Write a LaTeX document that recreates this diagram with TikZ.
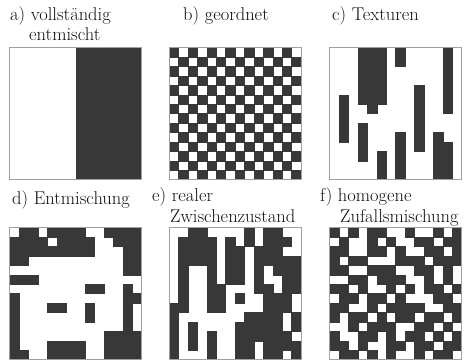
\documentclass[tikz,border=0pt]{standalone}
\usepackage{fontspec}
\usetikzlibrary{calc}
\definecolor{ink}{HTML}{101010}
\definecolor{dark}{HTML}{383838}
\definecolor{frame}{HTML}{A0A0A0}

\begin{document}
\begin{tikzpicture}[x=1pt, y=-1pt,
    lbl/.style={anchor=base west, inner sep=0pt, text=ink, font=\fontsize{18.5}{22}\selectfont},
    cellfill/.style={fill=dark, draw=dark, line width=0.25pt},
    panelframe/.style={draw=frame, line width=0.6pt}]
  \useasboundingbox (0,0) rectangle (469,361);
  \def\cs{9.43}

  % Top left corners of the six squares
  \coordinate (A) at (9.5,47.5);
  \coordinate (B) at (169,47.5);
  \coordinate (C) at (329.5,47.5);
  \coordinate (D) at (9.5,227.5);
  \coordinate (E) at (169,227.5);
  \coordinate (F) at (329.5,227.5);

  % Labels
  \node[lbl] (la1) at (10,21) {a) vollständig};
  \node[lbl] (la2) at (29,41) {entmischt};
  \node[lbl] (lb) at (183,21) {b) geordnet};
  \node[lbl] (lc) at (332,21) {c) Texturen};
  \node[lbl] (ld) at (12,204) {d) Entmischung};
  \node[lbl] (le1) at (152,201) {e) realer};
  \node[lbl] (le2) at (170,222) {Zwischenzustand};
  \node[lbl] (lf1) at (320,201) {f) homogene};
  \node[lbl] (lf2) at (340,222) {Zufallsmischung};

  % a) two halves
  \fill[dark] ($(A)+(66,0)$) rectangle ($(A)+(132,132)$);
  \draw[panelframe] (A) rectangle ++(132,132);

  % b) checkerboard, dark cell in the corner
  \foreach \i in {0,...,13}{
    \foreach \j in {0,...,13}{
      \pgfmathtruncatemacro{\p}{mod(\i+\j,2)}
      \ifnum\p=0 \fill[cellfill] ($(B)+(\i*\cs,\j*\cs)$) rectangle ++(\cs,\cs); \fi
    }
  }
  \draw[panelframe] (B) rectangle ++(132,132);

  % c) column textures (cells: x0/y0/x1/y1)
  \foreach \xa/\ya/\xb/\yb in {3/0/6/6, 4/6/5/7, 7/0/8/2, 12/0/13/7, 1/5/2/10,
      9/4/10/11, 3/8/4/12, 7/9/8/14, 5/11/6/14, 11/9/12/14, 12/10/13/14}{
    \fill[cellfill] ($(C)+(\xa*\cs,\ya*\cs)$) rectangle ($(C)+(\xb*\cs,\yb*\cs)$);
  }
  \draw[panelframe] (C) rectangle ++(132,132);

  % d) demixing
  \foreach \row [count=\j from 0] in {
      {0,1,1,0,1,1,1,1,0,0,1,1,1,1},
      {1,1,1,1,0,1,1,1,1,0,0,1,1,1},
      {1,1,1,1,1,1,1,1,1,0,0,0,1,1},
      {1,1,0,0,0,0,0,0,0,0,0,0,1,1},
      {0,0,0,0,0,0,0,0,0,0,0,0,1,1},
      {1,1,1,0,0,0,0,0,0,0,0,0,0,0},
      {0,0,0,0,0,0,0,0,1,1,0,0,1,0},
      {1,0,0,0,0,0,0,0,0,0,0,0,1,1},
      {1,0,0,0,1,1,0,0,1,0,0,0,1,0},
      {1,0,0,0,0,0,0,0,1,0,0,0,1,0},
      {1,0,0,0,0,0,0,0,0,0,0,0,1,0},
      {1,0,0,0,0,0,0,0,0,0,1,1,1,1},
      {1,0,0,0,1,1,1,1,0,0,1,1,1,1},
      {1,1,0,0,1,1,1,1,0,0,1,1,1,1}}{
    \foreach \v [count=\i from 0] in \row{
      \ifnum\v=1 \fill[cellfill] ($(D)+(\i*\cs,\j*\cs)$) rectangle ++(\cs,\cs); \fi
    }
  }
  \draw[panelframe] (D) rectangle ++(132,132);

  % e) real intermediate state
  \foreach \row [count=\j from 0] in {
      {0,0,1,1,0,0,0,0,1,0,1,1,0,0},
      {0,1,1,1,1,0,1,0,1,0,1,1,1,0},
      {0,1,1,1,1,0,1,1,0,1,1,1,0,0},
      {0,1,1,1,1,0,1,1,0,1,1,1,1,1},
      {0,1,0,0,1,0,1,1,0,1,0,1,1,1},
      {0,1,0,0,1,0,1,1,0,1,0,0,1,1},
      {0,1,0,0,1,1,0,0,0,1,1,0,1,1},
      {0,1,0,0,1,1,0,1,0,0,1,1,1,0},
      {1,1,0,0,1,1,0,0,0,0,1,1,1,0},
      {1,0,0,0,0,0,0,0,1,1,1,1,0,1},
      {1,0,1,0,0,0,0,1,1,1,1,1,0,1},
      {1,0,1,0,1,0,0,1,1,1,1,1,1,0},
      {1,0,1,0,1,0,0,1,1,0,1,1,1,1},
      {1,0,0,0,1,0,0,1,1,0,1,1,0,1}}{
    \foreach \v [count=\i from 0] in \row{
      \ifnum\v=1 \fill[cellfill] ($(E)+(\i*\cs,\j*\cs)$) rectangle ++(\cs,\cs); \fi
    }
  }
  \draw[panelframe] (E) rectangle ++(132,132);

  % f) homogeneous random mixture
  \foreach \row [count=\j from 0] in {
      {1,0,1,0,1,1,0,0,1,0,0,1,0,1},
      {0,1,0,0,1,0,1,0,0,1,1,0,1,1},
      {1,1,0,0,1,1,0,1,0,0,1,1,0,1},
      {1,0,1,1,0,0,0,1,1,1,0,1,1,1},
      {1,1,0,0,1,1,1,0,0,1,1,0,1,0},
      {0,0,1,1,0,1,1,1,0,0,1,0,1,0},
      {1,1,0,1,0,0,1,0,1,0,1,1,0,1},
      {0,1,1,0,1,1,0,1,0,0,0,1,1,0},
      {1,1,0,0,1,0,1,1,1,1,0,0,1,1},
      {1,0,1,1,0,1,0,1,1,0,1,1,0,1},
      {0,0,1,0,1,1,1,0,0,1,1,0,1,0},
      {1,0,0,1,1,0,1,0,1,1,0,1,0,1},
      {1,1,0,1,0,0,1,1,0,1,1,0,1,1},
      {0,1,1,0,1,0,1,0,0,1,0,1,1,0}}{
    \foreach \v [count=\i from 0] in \row{
      \ifnum\v=1 \fill[cellfill] ($(F)+(\i*\cs,\j*\cs)$) rectangle ++(\cs,\cs); \fi
    }
  }
  \draw[panelframe] (F) rectangle ++(132,132);
\end{tikzpicture}
\end{document}
